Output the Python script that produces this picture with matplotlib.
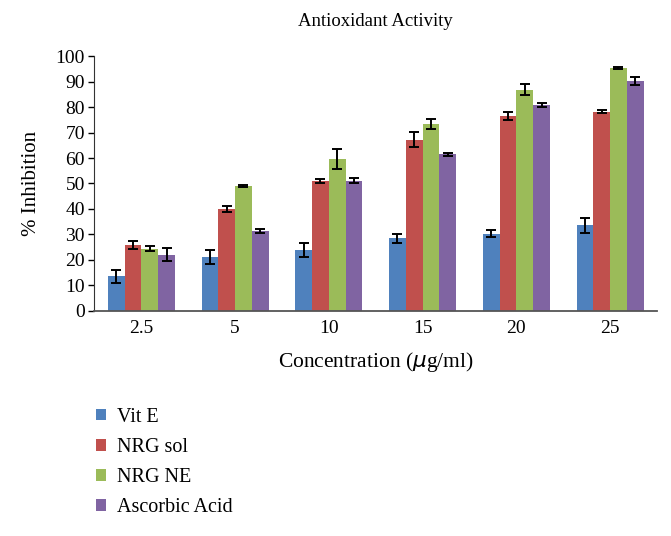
import numpy as np
import matplotlib.pyplot as plt

plt.rcParams['font.family'] = ['Liberation Serif', 'DejaVu Serif']

concentrations = ['2.5', '5', '10', '15', '20', '25']
series = ['Vit E', 'NRG sol', 'NRG NE', 'Ascorbic Acid']
vit_e = [13.5, 21.0, 23.8, 28.5, 30.3, 33.5]
nrg_sol = [25.8, 40.0, 51.0, 67.3, 76.5, 78.3]
nrg_ne = [24.3, 49.0, 59.7, 73.3, 87.0, 95.5]
ascorbic = [22.0, 31.3, 51.0, 61.5, 81.0, 90.3]
vit_e_err = [2.5, 2.7, 2.7, 1.8, 1.5, 3.0]
nrg_sol_err = [1.5, 1.3, 0.7, 3.0, 1.5, 0.7]
nrg_ne_err = [1.0, 0.5, 4.0, 2.0, 2.0, 0.5]
ascorbic_err = [2.5, 0.7, 1.0, 0.5, 0.7, 1.7]

colors = ['#4F81BD', '#C0504D', '#9BBB59', '#8064A2']
values = [vit_e, nrg_sol, nrg_ne, ascorbic]
errors = [vit_e_err, nrg_sol_err, nrg_ne_err, ascorbic_err]

fig = plt.figure(figsize=(6.71, 5.36), dpi=100)
ax = fig.add_axes([0.1408, 0.4207, 0.8383, 0.4739])

x = np.arange(len(concentrations))
w = 0.179
for i, (vals, errs) in enumerate(zip(values, errors)):
    ax.bar(x + (i - 1.5) * w, vals, w, color=colors[i], label=series[i],
           yerr=errs, capsize=3.5,
           error_kw={'elinewidth': 1.4, 'capthick': 1.4, 'ecolor': 'black'})

ax.set_xlim(-0.5, len(concentrations) - 0.5)
ax.set_ylim(0, 100)
ax.set_yticks(range(0, 101, 10))
ax.set_xticks(x)
ax.set_xticklabels(concentrations)
ax.tick_params(axis='x', length=0, labelsize=14, pad=7)
ax.tick_params(axis='y', length=4, width=1, labelsize=14, direction='out', pad=3)
for s in ['top', 'right']:
    ax.spines[s].set_visible(False)
ax.spines['left'].set_color('#333333')
ax.spines['bottom'].set_color('#555555')
ax.spines['bottom'].set_linewidth(1.3)

ax.set_title('Antioxidant Activity', fontsize=13.5, pad=22)
ax.set_xlabel('Concentration ($\\mu$g/ml)', fontsize=15.5, labelpad=9)
ax.set_ylabel('% Inhibition', fontsize=15, labelpad=10)

fig.legend(loc='upper left', bbox_to_anchor=(0.143, 0.239), frameon=False,
           borderpad=0, borderaxespad=0,
           fontsize=14.5, handlelength=0.5, handleheight=0.5, handletextpad=0.55,
           labelspacing=0.55)

fig.savefig('out.png', dpi=100)
